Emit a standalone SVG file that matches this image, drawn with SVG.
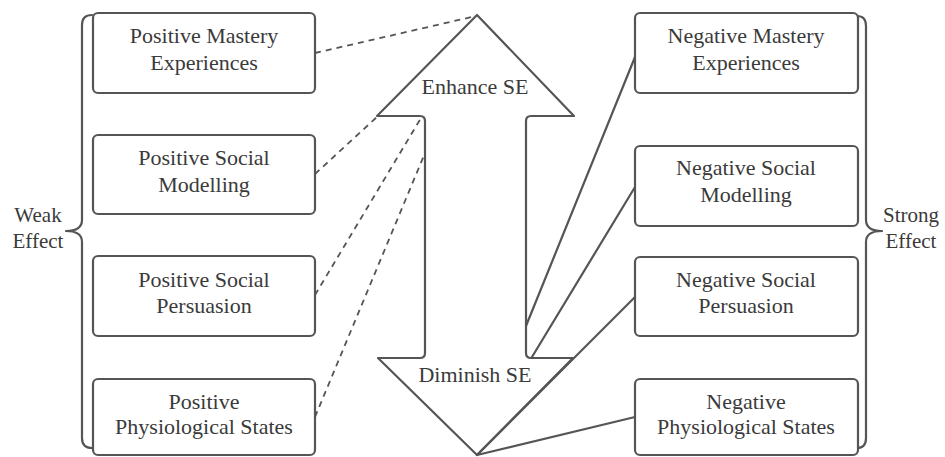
<svg xmlns="http://www.w3.org/2000/svg" width="945" height="457" viewBox="0 0 945 457">
<style>
.box{fill:#fff;stroke:#555;stroke-width:2.2}
.t{font-family:"Liberation Serif","Times New Roman",serif;font-size:22px;fill:#3a3a3a;text-anchor:middle}
.s{font-family:"Liberation Serif","Times New Roman",serif;font-size:21px;fill:#3a3a3a;text-anchor:middle}
.ln{fill:none;stroke:#555;stroke-width:2.2;stroke-linejoin:round;stroke-linecap:round}
.dash{fill:none;stroke:#555;stroke-width:1.8;stroke-dasharray:6 5}
</style>
<rect width="945" height="457" fill="#fff"/>
<g id="connectors">
<line class="dash" x1="315" y1="53" x2="476" y2="16"/>
<line class="dash" x1="315" y1="174" x2="378" y2="116"/>
<line class="dash" x1="315" y1="295" x2="421" y2="118"/>
<line class="dash" x1="315" y1="417" x2="425" y2="153"/>
<line class="ln" x1="635" y1="57" x2="526" y2="326"/>
<line class="ln" x1="635" y1="187" x2="532" y2="357"/>
<line class="ln" x1="635" y1="297" x2="477" y2="455"/>
<line class="ln" x1="635" y1="417" x2="477" y2="455"/>
</g>
<g id="arrow">
<path class="ln" d="M477,15 L574,116 L531,116 Q526,116 526,121 L526,353 Q526,358 531,358 L573,358 L477,455 L378,358 L420,358 Q425,358 425,353 L425,121 Q425,116 420,116 L377,116 Z"/>
<text class="t" x="475" y="94">Enhance SE</text>
<text class="t" x="475" y="382">Diminish SE</text>
</g>
<g id="brace-left">
<path class="ln" d="M92,15 Q82,15 82,25 L82,220 Q82,231 66,231 Q82,231 82,242 L82,438 Q82,448 92,448"/>
<text class="s" x="38" y="222">Weak</text>
<text class="s" x="38" y="248">Effect</text>
</g>
<g id="brace-right">
<path class="ln" d="M857,16 Q866,16 866,26 L866,220 Q866,231 882,231 Q866,231 866,242 L866,438 Q866,448 857,448"/>
<text class="s" x="911" y="222">Strong</text>
<text class="s" x="911" y="248">Effect</text>
</g>
<g id="pos-mastery">
<rect class="box" x="93" y="13" width="222" height="80" rx="5"/>
<text class="t" x="204" y="43">Positive Mastery</text>
<text class="t" x="204" y="70">Experiences</text>
</g>
<g id="pos-modelling">
<rect class="box" x="93" y="135" width="222" height="79" rx="5"/>
<text class="t" x="204" y="165">Positive Social</text>
<text class="t" x="204" y="192">Modelling</text>
</g>
<g id="pos-persuasion">
<rect class="box" x="93" y="256" width="222" height="80" rx="5"/>
<text class="t" x="204" y="287">Positive Social</text>
<text class="t" x="204" y="313">Persuasion</text>
</g>
<g id="pos-physio">
<rect class="box" x="93" y="379" width="222" height="76" rx="5"/>
<text class="t" x="204" y="409">Positive</text>
<text class="t" x="204" y="434">Physiological States</text>
</g>
<g id="neg-mastery">
<rect class="box" x="635" y="13" width="223" height="80" rx="5"/>
<text class="t" x="746" y="43">Negative Mastery</text>
<text class="t" x="746" y="70">Experiences</text>
</g>
<g id="neg-modelling">
<rect class="box" x="635" y="146" width="223" height="80" rx="5"/>
<text class="t" x="746" y="175">Negative Social</text>
<text class="t" x="746" y="202">Modelling</text>
</g>
<g id="neg-persuasion">
<rect class="box" x="635" y="257" width="223" height="79" rx="5"/>
<text class="t" x="746" y="287">Negative Social</text>
<text class="t" x="746" y="313">Persuasion</text>
</g>
<g id="neg-physio">
<rect class="box" x="635" y="379" width="223" height="76" rx="5"/>
<text class="t" x="746" y="409">Negative</text>
<text class="t" x="746" y="434">Physiological States</text>
</g>
</svg>
